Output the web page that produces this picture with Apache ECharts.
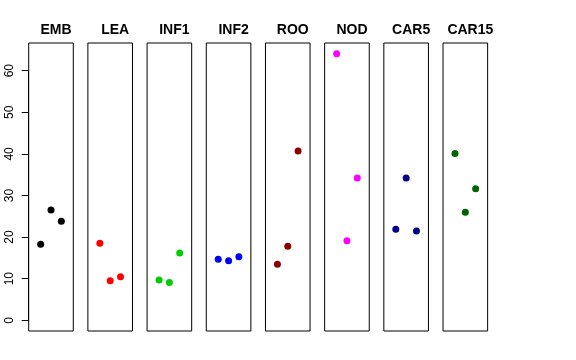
<!DOCTYPE html>
<html><head><meta charset="utf-8">
<script src="https://cdn.jsdelivr.net/npm/echarts@6/dist/echarts.min.js"></script>
<style>html,body{margin:0;padding:0;background:#fff}#c{width:576px;height:360px}</style>
</head><body><div id="c"></div>
<script>
const categories = ['EMB','LEA','INF1','INF2','ROO','NOD','CAR5','CAR15'];
const colors = ['#000000','#FF0000','#00CD00','#0000FF','#8B0000','#FF00FF','#00008B','#006400'];
const xPos = [1, 2, 3];
const EMB = [18.3, 26.5, 23.8];
const LEA = [18.5, 9.5, 10.5];
const INF1 = [9.7, 9.1, 16.2];
const INF2 = [14.7, 14.3, 15.3];
const ROO = [13.5, 17.8, 40.7];
const NOD = [64.1, 19.1, 34.2];
const CAR5 = [21.9, 34.2, 21.5];
const CAR15 = [40.1, 26.0, 31.6];
const values = [EMB, LEA, INF1, INF2, ROO, NOD, CAR5, CAR15];
const yTicks = [0, 10, 20, 30, 40, 50, 60];

const FONT = '"Liberation Sans", Arial, Helvetica, sans-serif';
const panelLeft0 = 28.7, panelStep = 59.19, panelW = 44.6, panelTop = 43, panelH = 288;
const yMin = -2.564, yMax = 66.66;
const y0px = 320.3, y60px = 70.7;

const grid = [], xAxis = [], yAxis = [], series = [], title = [];
categories.forEach((cat, i) => {
  const left = panelLeft0 + i * panelStep;
  grid.push({left: left, top: panelTop, width: panelW, height: panelH, show: true, borderColor: '#000', borderWidth: 1, backgroundColor: 'transparent'});
  xAxis.push({gridIndex: i, type: 'value', min: -0.16, max: 4.16, show: false});
  yAxis.push({gridIndex: i, type: 'value', min: yMin, max: yMax, show: false});
  series.push({type: 'scatter', xAxisIndex: i, yAxisIndex: i, symbol: 'circle', symbolSize: 7,
    itemStyle: {color: colors[i], opacity: 1}, data: xPos.map((x, k) => [x, values[i][k]]), animation: false});
  title.push({text: cat, left: left + panelW / 2, top: 18, textAlign: 'center',
    textStyle: {fontFamily: FONT, fontSize: 14, fontWeight: 'bold', color: '#000'}});
});
// separate grid for the left axis (spans 0..60 like R's axis())
const ai = categories.length;
grid.push({left: panelLeft0, top: y60px, width: panelW, height: y0px - y60px, show: false});
xAxis.push({gridIndex: ai, type: 'value', min: 0, max: 1, show: false});
yAxis.push({gridIndex: ai, type: 'value', min: yTicks[0], max: yTicks[yTicks.length - 1], interval: 10,
  axisLine: {show: true, lineStyle: {color: '#000', width: 1}},
  axisTick: {show: true, length: 7, lineStyle: {color: '#000'}},
  splitLine: {show: false},
  axisLabel: {show: true, rotate: 90, margin: 13, color: '#000', fontFamily: FONT, fontSize: 12}});

const chart = echarts.init(document.getElementById('c'), null, {renderer: 'canvas'});
chart.setOption({animation: false, backgroundColor: '#fff', title, grid, xAxis, yAxis, series});
</script></body></html>
